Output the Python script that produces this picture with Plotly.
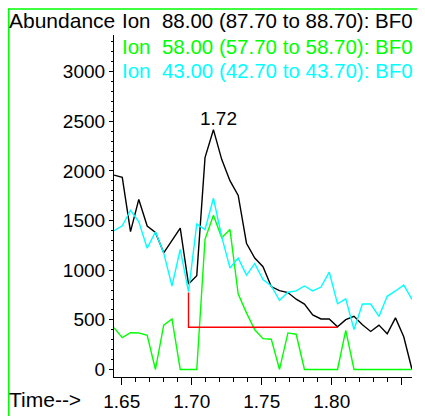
import plotly.graph_objects as go

# ---- data ----
time = [1.6445, 1.6504, 1.6563, 1.6622, 1.6682, 1.6741, 1.6800, 1.6859, 1.6918,
        1.6977, 1.7036, 1.7095, 1.7155, 1.7214, 1.7273, 1.7332, 1.7391, 1.7450,
        1.7509, 1.7568, 1.7627, 1.7687, 1.7746, 1.7805, 1.7864, 1.7923, 1.7982,
        1.8041, 1.8100, 1.8159, 1.8219, 1.8278, 1.8337, 1.8396, 1.8455, 1.8514,
        1.8573]

ion88 = [1958, 1935, 1388, 1713, 1445, 1380, 1175, 1300, 1425, 860, 945, 2134,
         2416, 2117, 1902, 1753, 1272, 1122, 1035, 835, 795, 775, 708, 659, 550,
         509, 509, 430, 502, 535, 450, 383, 447, 360, 520, 330, 0]

ion58 = [420, 320, 370, 368, 343, 0, 446, 509, 0, 0, 0, 1311, 1554, 1328, 1411,
         760, 570, 400, 310, 305, 0, 368, 355, 0, 0, 0, 0, 0, 393, 0, 0, 0, 0, 0,
         0, 0, 0]

ion43 = [1398, 1448, 1604, 1488, 1222, 1388, 1172, 841, 1210, 785, 1465, 1410,
         1725, 1338, 1023, 1122, 950, 1067, 905, 841, 695, 778, 791, 841, 791,
         830, 980, 662, 711, 402, 659, 659, 535, 737, 791, 850, 705]

baseline_t = [1.6977, 1.6977, 1.8041]
baseline_y = [775, 426, 426]

peak_time = 1.7155
peak_value = 2416
peak_label = "1.72"

legend_labels = ["Ion  88.00 (87.70 to 88.70): BF0",
                 "Ion  58.00 (57.70 to 58.70): BF0",
                 "Ion  43.00 (42.70 to 43.70): BF0"]

x_tickvals = [1.65, 1.70, 1.75, 1.80, 1.85]
x_ticktext = ["1.65", "1.70", "1.75", "1.80", ""]
y_tickvals = [0, 500, 1000, 1500, 2000, 2500, 3000]

# ---- layout geometry (page pixels; the page body adds an 8px offset) ----
OFF = 8
W, H = 425, 416
L, T = 114 - OFF, 35 - OFF
PW, PH = 298, 347
R = W - L - PW
B = H - T - PH


def px(xp):
    return (xp - OFF - L) / PW


def py(yp):
    return (H - B - (yp - OFF)) / PH


FONT = "Liberation Sans, Arial, sans-serif"
GREEN = "#00ff00"
CYAN = "#00ffff"

fig = go.Figure()
fig.add_trace(go.Scatter(x=time, y=ion88, mode="lines",
                         line=dict(color="black", width=1.4), hoverinfo="skip"))
fig.add_trace(go.Scatter(x=time, y=ion58, mode="lines",
                         line=dict(color=GREEN, width=1.4), hoverinfo="skip"))
fig.add_trace(go.Scatter(x=time, y=ion43, mode="lines",
                         line=dict(color=CYAN, width=1.4), hoverinfo="skip"))
fig.add_trace(go.Scatter(x=baseline_t, y=baseline_y, mode="lines",
                         line=dict(color="#ff0000", width=1.4), hoverinfo="skip"))

annotations = []
colors = ["black", GREEN, CYAN]
ypos = [20.7, 46.7, 71]
for lab, c, yp in zip(legend_labels, colors, ypos):
    annotations.append(dict(text=lab, xref="paper", yref="paper", x=px(119.5), y=py(yp),
                            xanchor="left", yanchor="middle", showarrow=False,
                            font=dict(family=FONT, size=20.5, color=c)))
annotations.append(dict(text="Abundance", xref="paper", yref="paper", x=px(7.3), y=py(20.7),
                        xanchor="left", yanchor="middle", showarrow=False,
                        font=dict(family=FONT, size=21, color="black")))
annotations.append(dict(text="Time-->", xref="paper", yref="paper", x=px(7.3), y=py(405),
                        xanchor="left", yanchor="middle", showarrow=False,
                        font=dict(family=FONT, size=21, color="black")))
annotations.append(dict(text=peak_label, x=peak_time, y=peak_value, xref="x", yref="y",
                        xanchor="center", yanchor="bottom", xshift=5, yshift=-1,
                        showarrow=False, font=dict(family=FONT, size=19, color="black")))

line_style = dict(color=GREEN, width=2)
shapes = [
    dict(type="line", xref="paper", yref="paper", x0=px(8.5), x1=px(8.5), y0=py(8), y1=py(440), line=line_style),
    dict(type="line", xref="paper", yref="paper", x0=px(422.5), x1=px(422.5), y0=py(8), y1=py(440), line=line_style),
    dict(type="line", xref="paper", yref="paper", x0=px(8), x1=px(423.5), y0=py(8.6), y1=py(8.6), line=dict(color=GREEN, width=1.5)),
]

fig.update_layout(
    width=W, height=H,
    margin=dict(l=L, r=R, t=T, b=B, pad=0),
    paper_bgcolor="white", plot_bgcolor="white",
    showlegend=False,
    font=dict(family=FONT, size=19, color="black"),
    annotations=annotations,
    shapes=shapes,
    xaxis=dict(range=[time[0], time[-1]], showgrid=False, zeroline=False,
               showline=True, linecolor="black", linewidth=1.2,
               tickmode="array", tickvals=x_tickvals, ticktext=x_ticktext,
               ticks="outside", ticklen=7, tickwidth=1.2, tickcolor="black",
               tickfont=dict(family=FONT, size=19),
               minor=dict(dtick=0.01, tick0=1.65, ticks="outside", ticklen=4,
                          tickwidth=1, tickcolor="black", showgrid=False)),
    yaxis=dict(range=[-76, 3370], showgrid=False, zeroline=False,
               showline=True, linecolor="black", linewidth=1.2,
               tickmode="array", tickvals=y_tickvals,
               ticks="outside", ticklen=4, tickwidth=1.2, tickcolor="black",
               tickfont=dict(family=FONT, size=19),
               minor=dict(dtick=100, tick0=0, ticks="outside", ticklen=2,
                          tickwidth=1, tickcolor="black", showgrid=False)),
)

fig.write_html("out.html")
